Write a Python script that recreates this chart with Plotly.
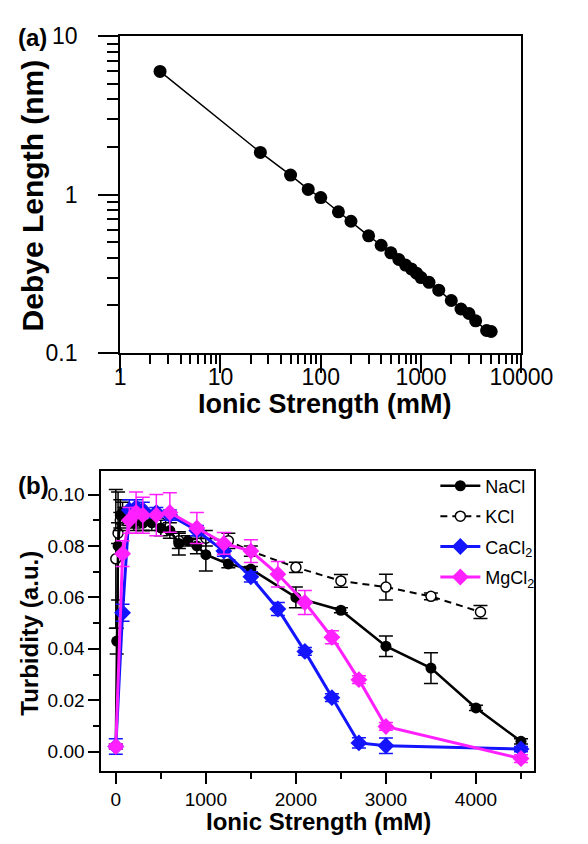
import plotly.graph_objects as go

# ---------------- Panel (a): Debye length vs ionic strength ----------------
ionic_a = [2.5, 25, 50, 75, 100, 150, 200, 300, 400, 500, 600, 700, 800, 900,
           1000, 1200, 1500, 2000, 2500, 3000, 3500, 4500, 5000]
debye_nm = [6.0, 1.85, 1.33, 1.08, 0.96, 0.78, 0.68, 0.55, 0.48, 0.43, 0.39, 0.36,
            0.34, 0.32, 0.30, 0.28, 0.25, 0.215, 0.19, 0.178, 0.16, 0.139, 0.137]

# ---------------- Panel (b): Turbidity vs ionic strength ----------------
nacl_x = [0, 10, 25, 50, 75, 100, 150, 200, 300, 400, 500, 600, 700, 800, 900,
          1000, 1250, 1500, 2000, 2500, 3000, 3500, 4000, 4500]
nacl_y = [0.002, 0.043, 0.080, 0.092, 0.093, 0.092, 0.091, 0.089, 0.089, 0.089, 0.087,
          0.086, 0.081, 0.082, 0.080, 0.0766, 0.073, 0.071, 0.060, 0.055, 0.041,
          0.0325, 0.017, 0.004]
nacl_err = [0.001, 0.005, 0.021, 0.006, 0.004, 0.003, 0.003, 0.003, 0.003, 0.003, 0.003,
            0.003, 0.0045, 0.002, 0.003, 0.0063, 0.0015, 0.001, 0.004, 0.001, 0.004,
            0.006, 0.001, 0.001]

kcl_x = [0, 25, 50, 100, 200, 300, 500, 700, 1000, 1250, 1500, 2000, 2500, 3000, 3500, 4050]
kcl_y = [0.075, 0.085, 0.090, 0.092, 0.090, 0.089, 0.089, 0.082, 0.083, 0.082, 0.078,
         0.0717, 0.0664, 0.064, 0.0604, 0.0543]
kcl_err = [0.027, 0.004, 0.003, 0.003, 0.003, 0.003, 0.003, 0.003, 0.003, 0.003, 0.002,
           0.002, 0.0025, 0.005, 0.0013, 0.0025]

cacl2_x = [0, 75, 150, 225, 300, 450, 600, 900, 1200, 1500, 1800, 2100, 2400, 2700, 3000, 4500]
cacl2_y = [0.002, 0.054, 0.094, 0.095, 0.094, 0.093, 0.092, 0.086, 0.078, 0.068, 0.0555,
           0.039, 0.021, 0.0034, 0.0023, 0.001]
cacl2_err = [0.003, 0.0033, 0.004, 0.003, 0.003, 0.002, 0.002, 0.002, 0.002, 0.002, 0.0025,
             0.0015, 0.0015, 0.002, 0.003, 0.001]

mgcl2_x = [0, 75, 150, 225, 300, 450, 600, 900, 1200, 1500, 1800, 2100, 2400, 2700, 3000, 4500]
mgcl2_y = [0.002, 0.077, 0.090, 0.093, 0.092, 0.092, 0.093, 0.087, 0.081, 0.078, 0.069,
           0.058, 0.0445, 0.028, 0.0098, -0.0027]
mgcl2_err = [0.001, 0.005, 0.005, 0.008, 0.007, 0.008, 0.0077, 0.006, 0.0042, 0.0044, 0.005,
             0.0047, 0.0025, 0.0015, 0.0015, 0.0015]

W, H = 588, 844
FONT = "Liberation Sans, Arial, Helvetica, sans-serif"
BLUE = "#1414ff"
MAG = "#ff1fff"
TICK = "black"


def px(x):
    return x / W


def py(y):
    return 1 - y / H


fig = go.Figure()

# panel (a)
fig.add_trace(go.Scatter(
    x=ionic_a, y=debye_nm, mode="lines+markers", xaxis="x", yaxis="y",
    line=dict(color="black", width=1.5),
    marker=dict(color="black", size=13, symbol="circle"),
    showlegend=False))

# panel (b)
fig.add_trace(go.Scatter(
    x=kcl_x, y=kcl_y, name="KCl", mode="lines+markers", xaxis="x2", yaxis="y2",
    line=dict(color="black", width=2, dash="7px,5px"),
    marker=dict(color="white", size=10, symbol="circle", line=dict(color="black", width=1.5)),
    error_y=dict(type="data", array=kcl_err, color="black", thickness=1.5, width=7),
    legendrank=2, legendgroup="k"))
fig.add_trace(go.Scatter(
    x=nacl_x, y=nacl_y, name="NaCl", mode="lines+markers", xaxis="x2", yaxis="y2",
    line=dict(color="black", width=2.5),
    marker=dict(color="black", size=11, symbol="circle"),
    error_y=dict(type="data", array=nacl_err, color="black", thickness=1.5, width=7),
    legendrank=1, legendgroup="n"))
fig.add_trace(go.Scatter(
    x=cacl2_x, y=cacl2_y, name="CaCl<sub>2</sub>", mode="lines+markers", xaxis="x2", yaxis="y2",
    line=dict(color=BLUE, width=3),
    marker=dict(color=BLUE, size=13, symbol="diamond"),
    error_y=dict(type="data", array=cacl2_err, color=BLUE, thickness=1.5, width=7),
    legendrank=3, legendgroup="c"))
fig.add_trace(go.Scatter(
    x=mgcl2_x, y=mgcl2_y, name="MgCl<sub>2</sub>", mode="lines+markers", xaxis="x2", yaxis="y2",
    line=dict(color=MAG, width=3),
    marker=dict(color=MAG, size=13, symbol="diamond"),
    error_y=dict(type="data", array=mgcl2_err, color=MAG, thickness=1.5, width=7),
    legendrank=4, legendgroup="m"))

fig.update_layout(
    width=W, height=H,
    margin=dict(l=0, r=0, t=0, b=0),
    paper_bgcolor="white", plot_bgcolor="white",
    font=dict(family=FONT, color="black"),
    xaxis=dict(
        type="log", range=[0, 4.0], domain=[px(122), px(551)], anchor="y",
        showline=True, linecolor="black", linewidth=2, mirror=True,
        showgrid=False, zeroline=False,
        tickmode="linear", tick0=0, dtick=1, tickformat="~g",
        ticks="outside", ticklen=18, tickwidth=2, tickcolor=TICK,
        tickfont=dict(size=23, family=FONT), ticklabelstandoff=-16,
        minor=dict(dtick="D1", ticks="outside",
                   ticklen=9, tickwidth=2, tickcolor=TICK, showgrid=False),
    ),
    yaxis=dict(
        type="log", range=[-1, 1], domain=[py(351), py(24)], anchor="x",
        showline=True, linecolor="black", linewidth=2, mirror=True,
        showgrid=False, zeroline=False,
        tickmode="linear", tick0=0, dtick=1, tickformat="~g",
        ticks="outside", ticklen=20, tickwidth=2, tickcolor=TICK,
        tickfont=dict(size=23, family=FONT), ticklabelstandoff=16,
        minor=dict(dtick="D1", ticks="outside",
                   ticklen=11, tickwidth=2, tickcolor=TICK, showgrid=False),
    ),
    xaxis2=dict(
        range=[-160, 4650], domain=[px(102), px(565)], anchor="y2",
        showline=True, linecolor="black", linewidth=2, mirror=True,
        showgrid=False, zeroline=False,
        tickmode="linear", tick0=0, dtick=1000,
        ticks="outside", ticklen=11, tickwidth=2, tickcolor=TICK,
        tickfont=dict(size=19, family=FONT), ticklabelstandoff=-1,
        minor=dict(dtick=500, tick0=0, ticks="outside", ticklen=6, tickwidth=2,
                   tickcolor=TICK, showgrid=False),
    ),
    yaxis2=dict(
        range=[-0.0075, 0.109], domain=[py(782), py(473)], anchor="x2",
        showline=True, linecolor="black", linewidth=2, mirror=True,
        showgrid=False, zeroline=False,
        tickmode="linear", tick0=0, dtick=0.02, tickformat=".2f",
        ticks="outside", ticklen=11, tickwidth=2, tickcolor=TICK,
        tickfont=dict(size=19, family=FONT),
        minor=dict(dtick=0.01, tick0=0, ticks="outside", ticklen=6, tickwidth=2,
                   tickcolor=TICK, showgrid=False),
    ),
    legend=dict(
        x=px(459), xanchor="left", y=py(469), yanchor="top",
        bgcolor="rgba(0,0,0,0)", borderwidth=0,
        font=dict(size=18, family=FONT),
        traceorder="grouped", tracegroupgap=4,
        itemwidth=40,
    ),
)

annos = [
    dict(text="<b>(a)</b>", x=px(28), y=py(25), size=24, angle=0, ya="middle"),
    dict(text="<b>(b)</b>", x=px(29), y=py(488), size=24, angle=0, ya="middle"),
    dict(text="<b>Debye Length (nm)</b>", x=px(28), y=py(188), size=30, angle=-90, ya="middle"),
    dict(text="<b>Ionic Strength (mM)</b>", x=px(340), y=py(403), size=27, angle=0, ya="middle"),
    dict(text="<b>Turbidity (a.u.)</b>", x=px(25), y=py(640), size=24, angle=-90, ya="middle"),
    dict(text="<b>Ionic Strength (mM)</b>", x=px(334), y=0, size=24, angle=0, ya="bottom"),
]
for a in annos:
    fig.add_annotation(
        text=a["text"], x=a["x"], y=a["y"], xref="paper", yref="paper",
        xanchor="center", yanchor=a["ya"], showarrow=False, textangle=a["angle"],
        yshift=-6 if a["ya"] == "bottom" else 0,
        font=dict(size=a["size"], family=FONT, color="black"))

fig.write_html("out.html")
